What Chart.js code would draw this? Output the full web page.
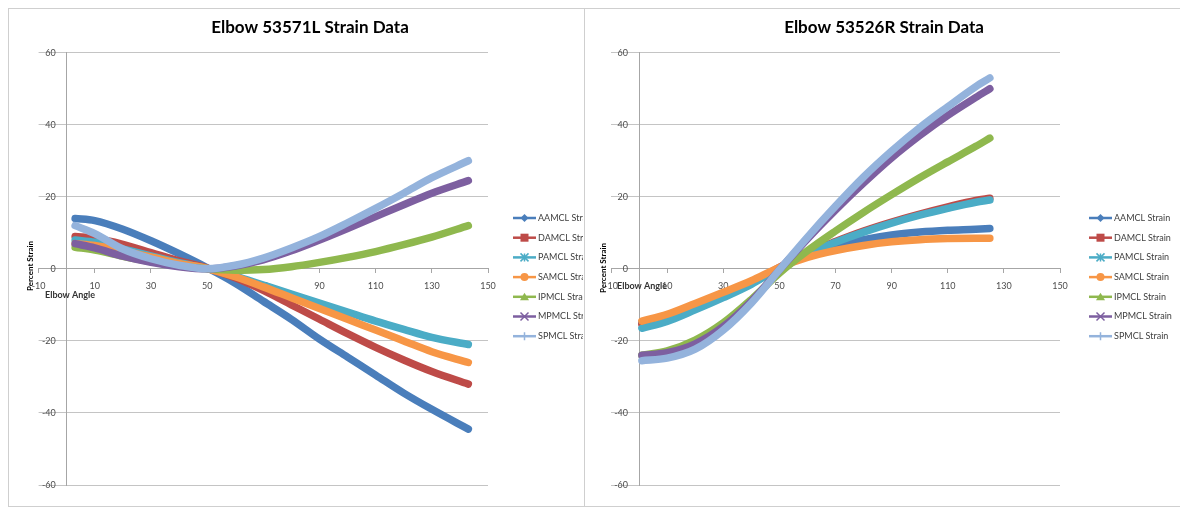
<!DOCTYPE html>
<html>
<head>
<meta charset="utf-8">
<script src="https://cdn.jsdelivr.net/npm/chart.js@4.4.1/dist/chart.umd.min.js"></script>
<style>
  body { margin: 0; background: #fff; width: 1180px; height: 510px; overflow: hidden; position: relative; }
  .panel { position: absolute; border: 1px solid #cfcfcf; box-sizing: border-box; }
  canvas { position: absolute; }
</style>
</head>
<body>
<div class="panel" style="left:8px;top:8px;width:577px;height:499px"></div>
<div class="panel" style="left:584px;top:8px;width:620px;height:499px"></div>
<canvas id="leftChart" width="574" height="497" style="left:9px;top:9px"></canvas>
<canvas id="rightChart" width="595" height="497" style="left:585px;top:9px"></canvas>
<script>
// series labels shared by both charts
const seriesNames = ['AAMCL Strain', 'DAMCL Strain', 'PAMCL Strain', 'SAMCL Strain', 'IPMCL Strain', 'MPMCL Strain', 'SPMCL Strain'];

// axis ticks
const xTicks = [-10, 10, 30, 50, 70, 90, 110, 130, 150];
const yTicks = [60, 40, 20, 0, -20, -40, -60];

// Elbow 53571L
const leftAngles = [3, 10, 20, 30, 40, 50, 60, 70, 80, 90, 100, 110, 120, 130, 143];
const leftAAMCL = [14, 13.4, 11, 7.8, 4.2, 0.3, -4, -9, -14, -19.5, -24.5, -29.5, -34.5, -39, -44.5];
const leftDAMCL = [9, 8.5, 6.8, 4.5, 2.2, 0.2, -2.5, -6, -10, -14, -18, -21.8, -25.3, -28.5, -32];
const leftPAMCL = [8, 7.4, 5.5, 3.6, 1.7, 0.1, -2, -4.5, -7, -9.5, -12, -14.5, -16.8, -19, -21];
const leftSAMCL = [7, 6.5, 5, 3.3, 1.5, 0.1, -2.2, -5, -8, -11, -14, -17, -20, -23, -26];
const leftIPMCL = [6, 5.2, 3.5, 2, 0.8, 0, -0.4, -0.2, 0.6, 1.8, 3.2, 4.8, 6.7, 8.8, 12];
const leftMPMCL = [7, 5.8, 3.5, 1.8, 0.6, 0, 0.8, 2.5, 5, 8, 11.2, 14.5, 17.8, 21, 24.5];
const leftSPMCL = [12, 9.8, 5.5, 2.8, 1, 0, 1, 3, 5.8, 9, 12.8, 16.8, 21, 25.3, 30];

// Elbow 53526R
const rightAngles = [1, 10, 20, 30, 40, 50, 60, 70, 80, 90, 100, 110, 120, 125];
const rightAAMCL = [-15, -13.3, -10.3, -7, -3.7, 0.3, 3.8, 6.3, 8.1, 9.4, 10.2, 10.7, 11, 11.2];
const rightDAMCL = [-15.5, -13.7, -10.6, -7.3, -3.9, 0.4, 4.4, 7.6, 10.5, 13, 15.2, 17.2, 19, 19.6];
const rightPAMCL = [-16.5, -14.6, -11.4, -8, -4.3, 0.2, 4.3, 7.4, 10.2, 12.7, 14.9, 16.8, 18.5, 19.1];
const rightSAMCL = [-14.5, -12.6, -9.6, -6.5, -3.3, 0.4, 3.2, 5.1, 6.5, 7.5, 8.1, 8.4, 8.5, 8.5];
const rightIPMCL = [-24, -22.8, -19.8, -15, -8.5, -1.2, 5, 10.5, 15.7, 20.6, 25.3, 29.7, 34, 36.3];
const rightMPMCL = [-24, -23.3, -20.8, -16, -9, -0.3, 8.3, 16.3, 23.8, 30.8, 37, 42.6, 47.6, 50];
const rightSPMCL = [-25.5, -24.8, -22.3, -17, -9.5, -0.3, 8.8, 17.4, 25.5, 32.7, 39.2, 45, 50.6, 53];

// Excel 2007 default palette + marker per series
const seriesColors = ['#4a7ebb', '#be4b48', '#4bacc6', '#f79646', '#8fb84e', '#7d5fa0', '#94b3dc'];
const markerStyles = ['diamond', 'square', 'star', 'circle', 'triangle', 'x', 'plus'];

function drawMarker(ctx, style, x, y, color) {
    ctx.save();
    ctx.fillStyle = color;
    ctx.strokeStyle = color;
    ctx.lineWidth = 1.5;
    ctx.beginPath();
    if (style === 'diamond') {
        ctx.moveTo(x, y - 4); ctx.lineTo(x + 4, y); ctx.lineTo(x, y + 4); ctx.lineTo(x - 4, y);
        ctx.closePath(); ctx.fill();
    } else if (style === 'square') {
        ctx.fillRect(x - 4, y - 4, 8, 8);
    } else if (style === 'circle') {
        ctx.arc(x, y, 4, 0, Math.PI * 2); ctx.fill();
    } else if (style === 'triangle') {
        ctx.moveTo(x, y - 4); ctx.lineTo(x + 4.5, y + 3.5); ctx.lineTo(x - 4.5, y + 3.5);
        ctx.closePath(); ctx.fill();
    } else if (style === 'x') {
        ctx.moveTo(x - 4, y - 4); ctx.lineTo(x + 4, y + 4);
        ctx.moveTo(x + 4, y - 4); ctx.lineTo(x - 4, y + 4); ctx.stroke();
    } else if (style === 'plus') {
        ctx.moveTo(x, y - 4); ctx.lineTo(x, y + 4);
        ctx.moveTo(x - 4, y); ctx.lineTo(x + 4, y); ctx.stroke();
    } else if (style === 'star') {
        ctx.moveTo(x - 4, y - 4); ctx.lineTo(x + 4, y + 4);
        ctx.moveTo(x + 4, y - 4); ctx.lineTo(x - 4, y + 4);
        ctx.moveTo(x, y - 4); ctx.lineTo(x, y + 4); ctx.stroke();
    }
    ctx.restore();
}

// title, y tick labels, axis titles and the Excel-like legend
const decorPlugin = {
    id: 'decor',
    afterDraw(chart, args, opts) {
        const ctx = chart.ctx;
        const xScale = chart.scales.x;
        const yScale = chart.scales.y;
        ctx.save();

        // y tick labels sit left of the axis crossing at x = 0
        const axisX = xScale.getPixelForValue(0);
        ctx.font = '9px Lato';
        ctx.fillStyle = '#4d4d4d';
        ctx.textAlign = 'right';
        ctx.textBaseline = 'middle';
        yTicks.forEach(v => ctx.fillText(String(v), axisX - 11, yScale.getPixelForValue(v)));

        ctx.fillStyle = '#000';
        ctx.textAlign = 'center';
        ctx.font = 'bold 17px Lato';
        ctx.fillText(opts.title, opts.titleX, 19);

        // y axis title (rotated)
        ctx.font = 'bold 8px Lato';
        ctx.save();
        ctx.translate(opts.yTitle[0], opts.yTitle[1]);
        ctx.rotate(-Math.PI / 2);
        ctx.fillText('Percent Strain', 0, 0);
        ctx.restore();

        ctx.textAlign = 'left';
        ctx.font = 'bold 9px Lato';
        ctx.fillStyle = '#333';
        ctx.fillText('Elbow Angle', opts.xTitle[0], opts.xTitle[1]);

        // legend
        ctx.font = '9px Lato';
        chart.data.datasets.forEach((ds, i) => {
            const y = 209 + i * 19.7;
            ctx.strokeStyle = ds.borderColor;
            ctx.lineWidth = 2.5;
            ctx.beginPath();
            ctx.moveTo(504, y);
            ctx.lineTo(527, y);
            ctx.stroke();
            drawMarker(ctx, markerStyles[i], 515.5, y, ds.borderColor);
            ctx.fillStyle = '#404040';
            ctx.fillText(ds.label, 529, y);
        });
        ctx.restore();
    }
};

function makeChart(canvasId, angles, series, pad, decor) {
    const datasets = series.map((vals, i) => ({
        label: seriesNames[i],
        data: angles.map((a, k) => ({ x: a, y: vals[k] })),
        borderColor: seriesColors[i],
        backgroundColor: seriesColors[i],
        borderWidth: 7.5,
        pointRadius: 0,
        cubicInterpolationMode: 'monotone',
        borderCapStyle: 'round',
        borderJoinStyle: 'round',
        fill: false,
        order: series.length - i // last series on top, like Excel
    }));

    return new Chart(document.getElementById(canvasId), {
        type: 'line',
        data: { datasets },
        options: {
            responsive: false,
            animation: false,
            layout: { padding: pad },
            plugins: { legend: { display: false }, tooltip: { enabled: false }, decor },
            scales: {
                x: {
                    type: 'linear',
                    position: { y: 0 },
                    min: -10,
                    max: 150,
                    afterBuildTicks: s => { s.ticks = xTicks.map(v => ({ value: v })); },
                    grid: { drawOnChartArea: false, drawTicks: true, tickLength: 4, color: '#a6a6a6' },
                    border: { display: true, color: '#a6a6a6' },
                    ticks: { padding: 8, autoSkip: false, maxRotation: 0, color: '#4d4d4d', font: { family: 'Lato', size: 9 } }
                },
                y: {
                    type: 'linear',
                    position: { x: 0 },
                    min: -60,
                    max: 60,
                    afterBuildTicks: s => { s.ticks = yTicks.map(v => ({ value: v })); },
                    grid: { color: '#c4c4c4', tickLength: 8 },
                    border: { display: true, color: '#a6a6a6' },
                    ticks: { display: false }
                }
            }
        },
        plugins: [decorPlugin]
    });
}

makeChart('leftChart', leftAngles,
    [leftAAMCL, leftDAMCL, leftPAMCL, leftSAMCL, leftIPMCL, leftMPMCL, leftSPMCL],
    { left: 29.6, top: 43.7, right: 95, bottom: 21 },
    { title: 'Elbow 53571L Strain Data', titleX: 301, yTitle: [21, 257], xTitle: [36, 286] });

makeChart('rightChart', rightAngles,
    [rightAAMCL, rightDAMCL, rightPAMCL, rightSAMCL, rightIPMCL, rightMPMCL, rightSPMCL],
    { left: 26, top: 43.7, right: 120, bottom: 21 },
    { title: 'Elbow 53526R Strain Data', titleX: 299, yTitle: [18, 259], xTitle: [32, 277] });
</script>
</body>
</html>
